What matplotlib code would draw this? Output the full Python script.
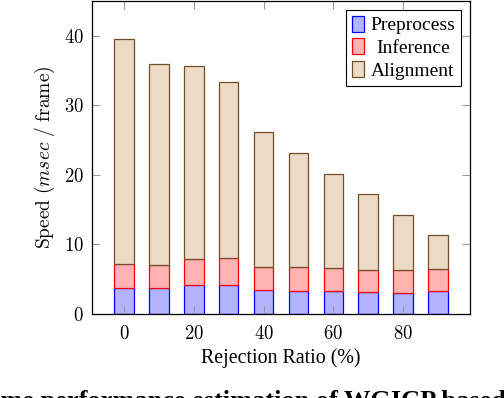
import numpy as np
import matplotlib.pyplot as plt
from matplotlib.ticker import FormatStrFormatter

plt.rcParams['font.family'] = ['Liberation Serif', 'DejaVu Serif']
plt.rcParams['mathtext.fontset'] = 'cm'

# rejection ratio (%) and cumulative tops
ratio = [0, 10, 20, 30, 40, 50, 60, 70, 80, 90]
preprocess = [3.77, 3.68, 4.11, 4.16, 3.40, 3.35, 3.26, 3.11, 2.97, 3.26]
inference_top = [7.13, 6.98, 7.85, 8.03, 6.79, 6.70, 6.56, 6.36, 6.27, 6.50]
total_top = [39.6, 36.0, 35.7, 33.4, 26.1, 23.15, 20.13, 17.26, 14.3, 11.43]

inference = [b - a for a, b in zip(preprocess, inference_top)]
alignment = [b - a for a, b in zip(inference_top, total_top)]

fig = plt.figure(figsize=(5.04, 3.98), dpi=100)
ax = fig.add_axes([0.1825, 0.211, 0.75, 0.7865])

w = 5.6
ax.bar(ratio, preprocess, w, color='#B3B3FF', edgecolor='blue', linewidth=0.9, label='Preprocess')
ax.bar(ratio, inference, w, bottom=preprocess, color='#FFB3B3', edgecolor='red', linewidth=0.9, label='Inference')
ax.bar(ratio, alignment, w, bottom=inference_top, color='#ECD9C6', edgecolor='#734D26', linewidth=0.9, label='Alignment')

ax.set_xlim(-9.2, 99.2)
ax.set_ylim(0, 45)
ax.set_xticks([0, 20, 40, 60, 80])
ax.set_yticks([0, 10, 20, 30, 40])
ax.xaxis.set_major_formatter(FormatStrFormatter('$%d$'))
ax.yaxis.set_major_formatter(FormatStrFormatter('$%d$'))
ax.tick_params(direction='in', top=True, right=True, length=5.5, width=0.8, color='0.6', labelsize=13.5, pad=6)
ax.tick_params(axis='x', pad=8)
for s in ax.spines.values():
    s.set_linewidth(0.9)

ax.set_xlabel('Rejection Ratio (%)', fontsize=14.4, labelpad=4)
ax.set_ylabel(r'$\mathrm{Speed\ (}msec\mathrm{\ /\ frame)}$', fontsize=14, labelpad=5)

leg = ax.legend(loc='upper right', fontsize=14, fancybox=False, framealpha=1, edgecolor='black',
                handlelength=0.62, handleheight=0.9, handletextpad=0.35, borderpad=0.3, labelspacing=0.2,
                borderaxespad=0.45)
leg.get_frame().set_linewidth(0.8)

# center the legend labels like pgfplots does
fig.canvas.draw()
r = fig.canvas.get_renderer()
texts = leg.get_texts()
widths = [t.get_window_extent(r).width for t in texts]
for t, wd in zip(texts, widths):
    t.set_x((max(widths) - wd) / 2)

# caption of the figure, cut off at the bottom edge as in the source
fig.text(1.003, -0.024, 'Runtime performance estimation of WGICP based', fontsize=19, fontweight='bold',
         ha='right', va='baseline')

fig.savefig('out.png', dpi=100)
